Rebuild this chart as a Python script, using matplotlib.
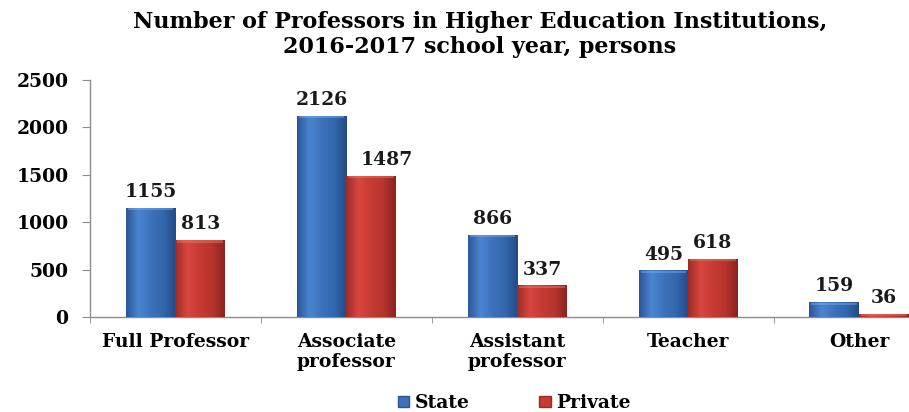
import numpy as np
import matplotlib
matplotlib.use("Agg")
import matplotlib.pyplot as plt
from matplotlib.colors import LinearSegmentedColormap
from matplotlib.patches import Patch

categories = ["Full Professor", "Associate\nprofessor", "Assistant\nprofessor", "Teacher", "Other"]
state = [1155, 2126, 866, 495, 159]
private = [813, 1487, 337, 618, 36]
series_names = ["State", "Private"]
yticks = [0, 500, 1000, 1500, 2000, 2500]

plt.rcParams["font.family"] = ["DejaVu Serif"]
plt.rcParams["font.weight"] = "bold"

fig = plt.figure(figsize=(9.09, 4.12), dpi=100)
ax = fig.add_axes([0.099, 0.2294, 0.94, 0.5765])

x = np.arange(len(categories))
w = 0.29
b1 = ax.bar(x - w / 2, state, w, color="#3a6db4", zorder=2)
b2 = ax.bar(x + w / 2, private, w, color="#c23a33", zorder=2)

blue_cmap = LinearSegmentedColormap.from_list(
    "b", ["#2b5596", "#4a86d0", "#3d72bb", "#3367ad", "#234a85"])
red_cmap = LinearSegmentedColormap.from_list(
    "r", ["#9c2b27", "#d8463f", "#c63b34", "#b8342e", "#8a2420"])

grad = np.linspace(0, 1, 256).reshape(1, -1)


def shade(bars, cmap, top_color):
    for p in bars:
        x0, y0 = p.get_x(), p.get_y()
        bw, bh = p.get_width(), p.get_height()
        im = ax.imshow(grad, cmap=cmap, aspect="auto",
                       extent=[x0, x0 + bw, y0, y0 + bh], zorder=3,
                       interpolation="bicubic")
        im.set_clip_path(p)
        # light bevel along the top edge
        cap = min(bh, 40)
        ax.fill_between([x0 + bw * 0.04, x0 + bw * 0.96], y0 + bh - cap * 0.6, y0 + bh - cap * 0.05,
                        color=top_color, alpha=0.45, lw=0, zorder=4)
        p.set_facecolor("none")


shade(b1, blue_cmap, "#7fb0ec")
shade(b2, red_cmap, "#ee7b72")

# value labels; the tall private bar's label is nudged right, clear of its neighbour
nudge = {("Private", 1): 11}
for name, bars, vals in (("State", b1, state), ("Private", b2, private)):
    for i, (p, v) in enumerate(zip(bars, vals)):
        ax.annotate(f"{v}", (p.get_x() + p.get_width() / 2, v),
                    xytext=(nudge.get((name, i), 0), 5), textcoords="offset points",
                    ha="center", va="bottom", fontsize=13.5, fontweight="bold",
                    color="#1a1a1a", zorder=5)

ax.set_xlim(-0.5, len(categories) - 0.5)
ax.set_ylim(0, 2500)
ax.set_yticks(yticks)
ax.set_yticklabels([str(t) for t in yticks], fontsize=13.5, fontweight="bold")
ax.set_xticks(x)
ax.set_xticklabels(categories, fontsize=13.5, fontweight="bold", linespacing=1.15)
ax.set_xticks(np.arange(-0.5, len(categories), 1), minor=True)
ax.tick_params(axis="x", which="major", length=0, pad=11)
ax.tick_params(axis="x", which="minor", length=4, color="#8c8c8c")
ax.tick_params(axis="y", length=5.5, color="#8c8c8c", pad=10)

for s in ("top", "right"):
    ax.spines[s].set_visible(False)
for s in ("left", "bottom"):
    ax.spines[s].set_color("#8c8c8c")
    ax.spines[s].set_linewidth(1.0)

fig.text(0.528, 0.932, "Number of Professors in Higher Education Institutions,",
         ha="center", va="baseline", fontsize=16, fontweight="bold")
fig.text(0.528, 0.871, "2016-2017 school year, persons",
         ha="center", va="baseline", fontsize=16, fontweight="bold")

handles = [Patch(facecolor="#3d72bb", edgecolor="#2b5596"),
           Patch(facecolor="#c63b34", edgecolor="#9c2b27")]
fig.legend(handles, series_names, loc="center", bbox_to_anchor=(0.566, 0.022),
           ncol=2, frameon=False, fontsize=13.5, handlelength=0.6, handleheight=0.5,
           handletextpad=0.3, columnspacing=3.7)

fig.savefig("out.png", dpi=100)
